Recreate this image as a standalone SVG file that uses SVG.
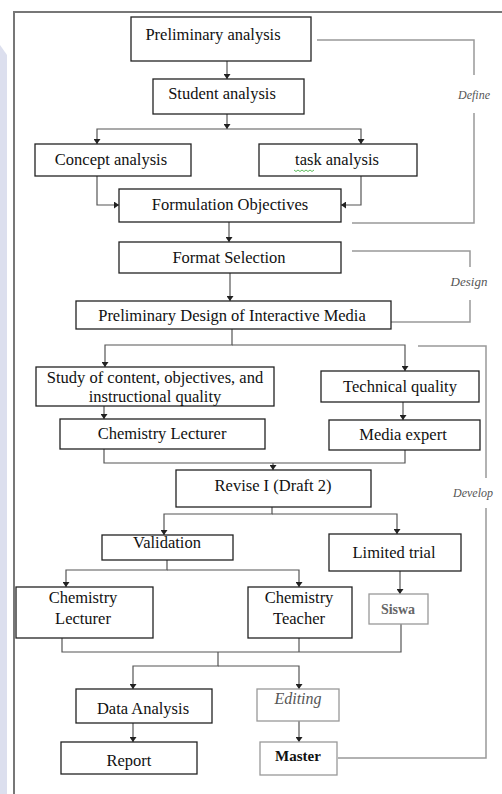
<svg xmlns="http://www.w3.org/2000/svg" width="502" height="794" viewBox="0 0 502 794">
<style>
.box{fill:#fff;stroke:#222;stroke-width:1.3}
.gbox{fill:#fff;stroke:#999;stroke-width:1.3}
.t{font-family:"Liberation Serif",serif;font-size:16.5px;fill:#111;text-anchor:middle}
.sis{font-size:14px;font-weight:bold;fill:#666}
.edt{font-size:16px;font-style:italic;fill:#555}
.mst{font-size:15px;font-weight:bold}
.c{fill:none;stroke:#555;stroke-width:1.2}
.br{fill:none;stroke:#999;stroke-width:1.5}
.lbl{font-family:"Liberation Serif",serif;font-style:italic;font-size:12px;fill:#555;text-anchor:middle}
</style>
<defs>
<marker id="ah" markerUnits="userSpaceOnUse" markerWidth="7" markerHeight="7" refX="5" refY="3.5" orient="auto">
<path d="M0,0 L5,3.5 L0,7 z" fill="#222"/>
</marker>
</defs>
<rect width="502" height="794" fill="#fff"/>
<g id="watermark">
<path d="M0,45 L7,55 L7,794 L0,794 z" fill="#dcdfee"/>
</g>
<path id="frame" d="M14,794 V12 H502" fill="none" stroke="#777" stroke-width="2"/>
<g id="connectors">
<path class="c" d="M227,61 V79" marker-end="url(#ah)"/>
<path class="c" d="M227,114 V129" marker-end="url(#ah)"/>
<path class="c" d="M227,129 H97 V144" marker-end="url(#ah)"/>
<path class="c" d="M227,129 H361 V144" marker-end="url(#ah)"/>
<path class="c" d="M97,176 V205 H119" marker-end="url(#ah)"/>
<path class="c" d="M361,176 V205 H341" marker-end="url(#ah)"/>
<path class="c" d="M229,222 V242" marker-end="url(#ah)"/>
<path class="c" d="M230,273 V301" marker-end="url(#ah)"/>
<path class="c" d="M232,329 V345 H105 V367" marker-end="url(#ah)"/>
<path class="c" d="M232,345 H405 V371" marker-end="url(#ah)"/>
<path class="c" d="M104,406 V419" marker-end="url(#ah)"/>
<path class="c" d="M403,402 V420" marker-end="url(#ah)"/>
<path class="c" d="M104,449 V463 H405 V450"/>
<path class="c" d="M273,463 V470" marker-end="url(#ah)"/>
<path class="c" d="M272,507 V514 H164 V535" marker-end="url(#ah)"/>
<path class="c" d="M272,514 H397 V534" marker-end="url(#ah)"/>
<path class="c" d="M167,560 V570 H66 V587" marker-end="url(#ah)"/>
<path class="c" d="M167,570 H299 V587" marker-end="url(#ah)"/>
<path class="c" d="M400,571 V594" marker-end="url(#ah)"/>
<path class="c" d="M62,638 V652 H401 V624"/>
<path class="c" d="M299,638 V652"/>
<path class="c" d="M218,652 V666 H133 V689" marker-end="url(#ah)"/>
<path class="c" d="M218,666 H299 V689" marker-end="url(#ah)"/>
<path class="c" d="M133,723 V742" marker-end="url(#ah)"/>
<path class="c" d="M299,721 V742" marker-end="url(#ah)"/>
</g>
<g id="brackets">
<path class="br" d="M317,40 H474 V75"/>
<path class="br" d="M474,113 V223 H352"/>
<path class="br" d="M352,251 H470 V267"/>
<path class="br" d="M470,300 V322 H391"/>
<path class="br" d="M418,346 H486 V478"/>
<path class="br" d="M486,508 V758 H338"/>
<text class="lbl" x="474" y="99">Define</text>
<text class="lbl" x="469" y="286" style="font-size:13px">Design</text>
<text class="lbl" x="473" y="497">Develop</text>
</g>
<g id="n1"><rect class="box" x="131" y="17" width="180" height="44"/><text class="t" x="213" y="40">Preliminary analysis</text></g>
<g id="n2"><rect class="box" x="153" y="79" width="151" height="35"/><text class="t" x="222" y="99">Student analysis</text></g>
<g id="n3"><rect class="box" x="35" y="144" width="156" height="32"/><text class="t" x="111" y="165">Concept analysis</text></g>
<g id="n4"><rect class="box" x="259" y="144" width="158" height="32"/><text class="t" x="337" y="165">task analysis</text>
<path d="M294,170 l2,1.5 2,-1.5 2,1.5 2,-1.5 2,1.5 2,-1.5 2,1.5 2,-1.5 2,1.5 2,-1.5" fill="none" stroke="#3a3" stroke-width="0.8"/></g>
<g id="n5"><rect class="box" x="119" y="189" width="222" height="33"/><text class="t" x="230" y="210">Formulation Objectives</text></g>
<g id="n6"><rect class="box" x="119" y="242" width="222" height="31"/><text class="t" x="229" y="263">Format Selection</text></g>
<g id="n7"><rect class="box" x="76" y="301" width="315" height="28"/><text class="t" x="232" y="321">Preliminary Design of Interactive  Media</text></g>
<g id="n8"><rect class="box" x="36" y="367" width="238" height="39"/><text class="t" x="155" y="383">Study of content, objectives, and</text><text class="t" x="155" y="402">instructional quality</text></g>
<g id="n9"><rect class="box" x="321" y="371" width="158" height="31"/><text class="t" x="400" y="392">Technical quality</text></g>
<g id="n10"><rect class="box" x="60" y="419" width="205" height="30"/><text class="t" x="162" y="439">Chemistry Lecturer</text></g>
<g id="n11"><rect class="box" x="329" y="420" width="151" height="30"/><text class="t" x="403" y="440">Media expert</text></g>
<g id="n12"><rect class="box" x="176" y="470" width="195" height="37"/><text class="t" x="273" y="491">Revise I (Draft 2)</text></g>
<g id="n13"><rect class="box" x="102" y="535" width="131" height="25"/><text class="t" x="167" y="548">Validation</text></g>
<g id="n14"><rect class="box" x="329" y="534" width="132" height="37"/><text class="t" x="394" y="558">Limited trial</text></g>
<g id="n15"><rect class="box" x="16" y="587" width="137" height="51"/><text class="t" x="83" y="603">Chemistry</text><text class="t" x="83" y="624">Lecturer</text></g>
<g id="n16"><rect class="box" x="248" y="587" width="104" height="51"/><text class="t" x="299" y="603">Chemistry</text><text class="t" x="299" y="624">Teacher</text></g>
<g id="n17"><rect class="gbox" x="369" y="594" width="59" height="30"/><text class="t sis" x="398" y="614">Siswa</text></g>
<g id="n18"><rect class="box" x="76" y="689" width="136" height="34"/><text class="t" x="143" y="714">Data Analysis</text></g>
<g id="n19"><rect class="gbox" x="257" y="689" width="82" height="32"/><text class="t edt" x="298" y="704">Editing</text></g>
<g id="n20"><rect class="box" x="61" y="742" width="136" height="32"/><text class="t" x="129" y="766">Report</text></g>
<g id="n21"><rect class="gbox" x="260" y="742" width="77" height="33"/><text class="t mst" x="298" y="761">Master</text></g>
</svg>
